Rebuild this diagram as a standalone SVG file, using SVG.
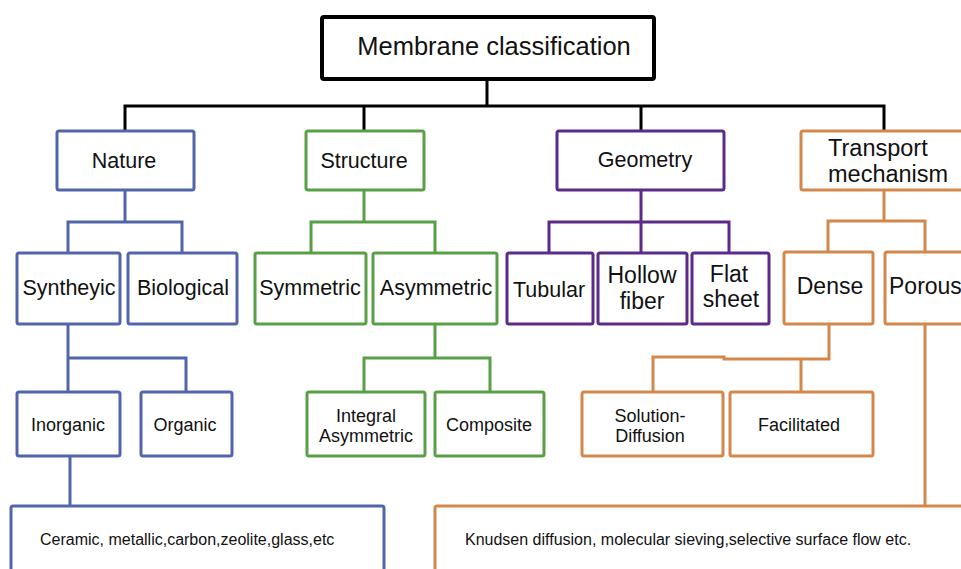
<svg xmlns="http://www.w3.org/2000/svg" width="961" height="569" viewBox="0 0 961 569">
<style>
text{font-family:"Liberation Sans",Arial,sans-serif;fill:#111;text-anchor:middle}
.l0{font-size:25.5px}
.l1{font-size:21.5px}
.l2{font-size:21.5px}
.l2b{font-size:23px}
.l3{font-size:18px}
.l4{font-size:16px;text-anchor:start}
rect{fill:#fff;stroke-width:3}
.blk{stroke:#000;stroke-width:4}
.b{stroke:#5066A9}
.g{stroke:#58A046}
.p{stroke:#5C2B89}
.o{stroke:#D4874A}
.c{fill:none;stroke-width:3;stroke-linejoin:miter}
</style>
<rect width="961" height="569" fill="#fff" stroke="none"/>
<g id="connectors">
<path class="c" stroke="#000" stroke-width="4" d="M487 79V106M125 131V106H884V131M364 106V131M641 106V131"/>
<path class="c b" d="M125 190V222M68 253V222H182V253M68 324V358M68 392V358H186V392M70 456V506"/>
<path class="c g" d="M364 190V222M311 253V222H435V253M435 324V358M364 392V358H490V392"/>
<path class="c p" d="M641 190V253M549 253V222H729V253"/>
<path class="c o" d="M884 190V221M828 252V221H925V252M829 324V359H724V357H653V392M801 359V392M925 324V506"/>
</g>
<g id="root"><rect class="blk" x="322" y="17" width="332" height="62" rx="2"/><text class="l0" x="494" y="55">Membrane classification</text></g>
<g id="nature"><rect class="b" x="57" y="131" width="137" height="59" rx="2"/><text class="l1" x="124" y="168">Nature</text></g>
<g id="structure"><rect class="g" x="306" y="131" width="118" height="59" rx="2"/><text class="l1" x="364" y="168">Structure</text></g>
<g id="geometry"><rect class="p" x="557" y="131" width="167" height="59" rx="2"/><text class="l1" x="645" y="167">Geometry</text></g>
<g id="transport"><rect class="o" x="801" y="131" width="200" height="59" rx="2"/><text x="828" y="156" style="text-anchor:start;font-size:23.5px">Transport</text><text x="828" y="182" style="text-anchor:start;font-size:23.5px">mechanism</text></g>
<g id="syntheyic"><rect class="b" x="17" y="253" width="103" height="71" rx="2"/><text class="l2" x="69" y="295">Syntheyic</text></g>
<g id="biological"><rect class="b" x="128" y="253" width="109" height="71" rx="2"/><text class="l2" x="183" y="295">Biological</text></g>
<g id="symmetric"><rect class="g" x="255" y="253" width="111" height="71" rx="2"/><text class="l2" x="310" y="295">Symmetric</text></g>
<g id="asymmetric"><rect class="g" x="373" y="253" width="124" height="71" rx="2"/><text class="l2" x="436" y="295">Asymmetric</text></g>
<g id="tubular"><rect class="p" x="507" y="253" width="86" height="71" rx="2"/><text class="l2" x="549" y="297">Tubular</text></g>
<g id="hollow"><rect class="p" x="598" y="253" width="89" height="71" rx="2"/><text class="l2b" x="642" y="283">Hollow</text><text class="l2b" x="642" y="309">fiber</text></g>
<g id="flat"><rect class="p" x="692" y="253" width="77" height="71" rx="2"/><text class="l2b" x="729" y="282">Flat</text><text class="l2b" x="731" y="307">sheet</text></g>
<g id="dense"><rect class="o" x="784" y="252" width="89" height="72" rx="2"/><text class="l2b" x="830" y="294">Dense</text></g>
<g id="porous"><rect class="o" x="885" y="252" width="100" height="72" rx="2"/><text class="l2b" x="889" y="294" style="text-anchor:start">Porous</text></g>
<g id="inorganic"><rect class="b" x="17" y="392" width="103" height="64" rx="2"/><text class="l3" x="68" y="431">Inorganic</text></g>
<g id="organic"><rect class="b" x="141" y="392" width="91" height="64" rx="2"/><text class="l3" x="185" y="431">Organic</text></g>
<g id="integral"><rect class="g" x="307" y="392" width="118" height="64" rx="2"/><text class="l3" x="366" y="422">Integral</text><text class="l3" x="366" y="442">Asymmetric</text></g>
<g id="composite"><rect class="g" x="435" y="392" width="109" height="64" rx="2"/><text class="l3" x="489" y="431">Composite</text></g>
<g id="solution"><rect class="o" x="582" y="392" width="141" height="64" rx="2"/><text class="l3" x="650" y="422">Solution-</text><text class="l3" x="650" y="442">Diffusion</text></g>
<g id="facilitated"><rect class="o" x="730" y="392" width="143" height="64" rx="2"/><text class="l3" x="799" y="431">Facilitated</text></g>
<g id="inorganic-examples"><rect class="b" x="11" y="506" width="373" height="100" rx="2"/><text class="l4" x="40" y="545">Ceramic, metallic,carbon,zeolite,glass,etc</text></g>
<g id="porous-examples"><rect class="o" x="435" y="506" width="600" height="100" rx="2"/><text class="l4" x="465" y="545">Knudsen diffusion, molecular sieving,selective surface flow etc.</text></g>
</svg>
